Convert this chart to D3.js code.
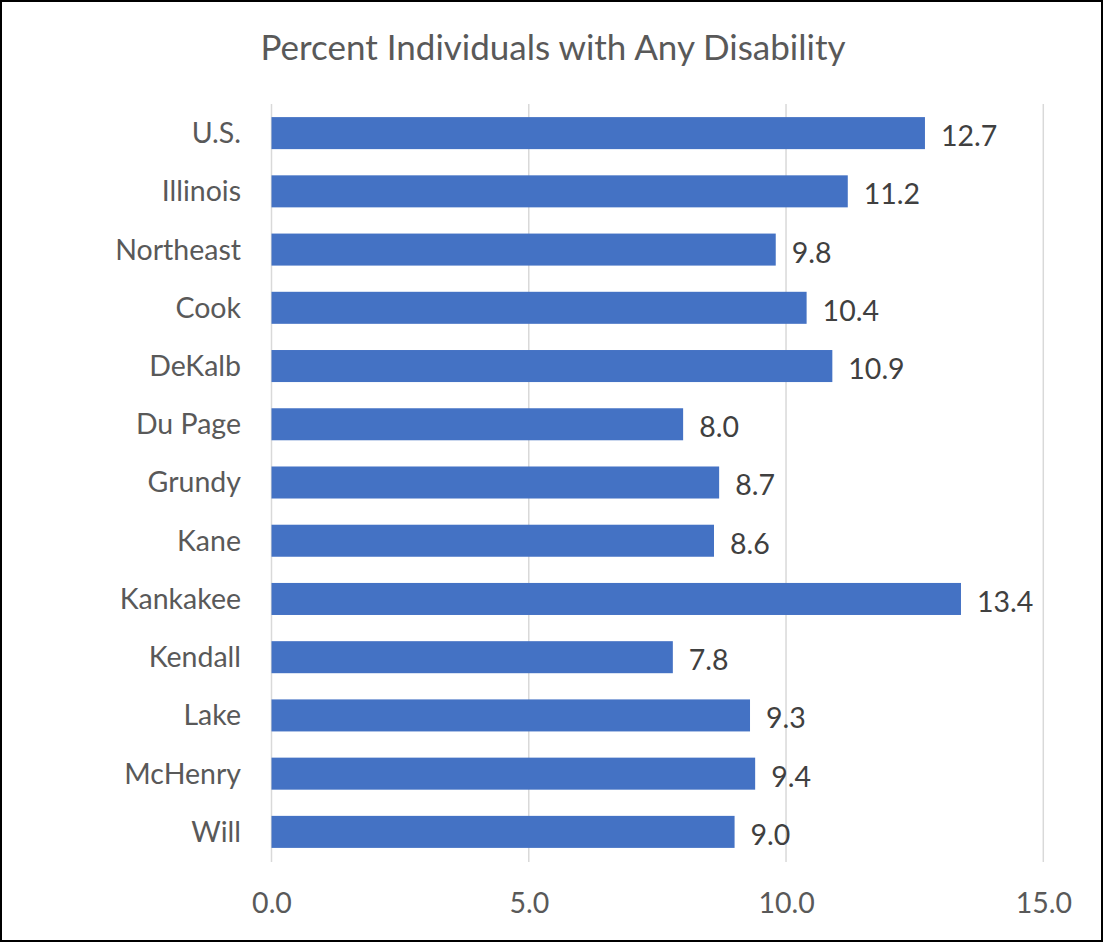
<!DOCTYPE html>
<html><head><meta charset="utf-8">
<script src="https://cdn.jsdelivr.net/npm/d3@7"></script>
<style>body{margin:0;background:#fff}svg{display:block}</style>
</head><body>
<script>
const categories = ["U.S.","Illinois","Northeast","Cook","DeKalb","Du Page","Grundy","Kane","Kankakee","Kendall","Lake","McHenry","Will"];
const values = [12.7,11.2,9.8,10.4,10.9,8.0,8.7,8.6,13.4,7.8,9.3,9.4,9.0];
const ticks = [0,5,10,15];
const title = "Percent Individuals with Any Disability";

const W = 1104, H = 942;
const font = "Lato, 'Open Sans', sans-serif";
const svg = d3.select("body").append("svg").attr("width", W).attr("height", H);
svg.append("rect").attr("x",1).attr("y",1).attr("width",W-3).attr("height",H-2)
  .attr("fill","#fff").attr("stroke","#000").attr("stroke-width",2);

const x = d3.scaleLinear().domain([0,15]).range([271.5,1043.3]);
const y = d3.scaleBand().domain(categories).range([104,861]).paddingInner(0.45).paddingOuter(0.225);

svg.append("text").attr("x",553).attr("y",60).attr("text-anchor","middle")
  .attr("font-family",font).attr("font-size",35).attr("fill","#595959").text(title);

const g = svg.append("g");
g.selectAll("line.grid").data(ticks).join("line").attr("class","grid")
  .attr("x1",d=>x(d)).attr("x2",d=>x(d)).attr("y1",104).attr("y2",862)
  .attr("stroke","#d9d9d9").attr("stroke-width",1.5);

g.selectAll("rect.bar").data(categories).join("rect").attr("class","bar")
  .attr("x",x(0)).attr("y",d=>y(d)).attr("height",y.bandwidth())
  .attr("width",(d,i)=>x(values[i])-x(0)).attr("fill","#4472C4");

g.selectAll("text.cat").data(categories).join("text").attr("class","cat")
  .attr("x",241).attr("y",d=>y(d)+y.bandwidth()/2).attr("dy","0.35em")
  .attr("text-anchor","end").attr("font-family",font).attr("font-size",28.5).attr("fill","#595959").text(d=>d);

g.selectAll("text.val").data(categories).join("text").attr("class","val")
  .attr("x",(d,i)=>x(values[i])+16).attr("y",d=>y(d)+y.bandwidth()/2+3).attr("dy","0.35em")
  .attr("font-family",font).attr("font-size",28.5).attr("fill","#404040").text((d,i)=>values[i].toFixed(1));

const axis = d3.axisBottom(x).tickValues(ticks).tickFormat(d3.format(".1f")).tickSize(0).tickPadding(0);
const ax = svg.append("g").attr("transform","translate(0,903)").call(axis);
ax.select(".domain").remove();
ax.selectAll("text").attr("font-family",font).attr("font-size",28.5).attr("fill","#595959").attr("dy","0.35em");
</script>
</body></html>
